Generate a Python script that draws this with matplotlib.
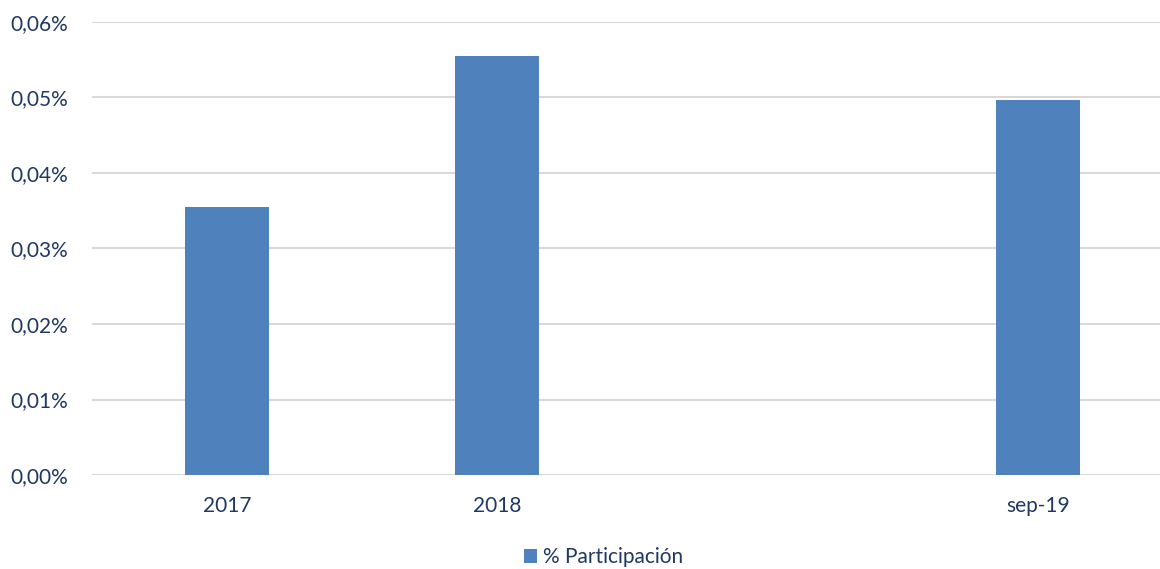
import numpy as np
from matplotlib import pyplot as plt
from matplotlib.ticker import FuncFormatter

categories = ["2017", "2018", "", "sep-19"]
participacion = [0.0355, 0.0555, np.nan, 0.0497]  # percent values
y_ticks = [0.00, 0.01, 0.02, 0.03, 0.04, 0.05, 0.06]

text_color = "#1F3864"
bar_color = "#4F81BD"

plt.rcParams["font.family"] = ["Lato", "DejaVu Sans"]

fig = plt.figure(figsize=(11.6, 5.69), dpi=100)
ax = fig.add_axes([92 / 1160, 94 / 569, 1 - 92 / 1160, (475 - 22) / 569])

x = np.arange(len(categories))
ax.bar(x, participacion, width=84 / 270, color=bar_color, label="% Participación", zorder=3)

ax.set_xlim(-0.5, 3.5 - 13 / 270)
ax.set_ylim(0, 0.06)
ax.set_yticks(y_ticks)
ax.yaxis.set_major_formatter(FuncFormatter(lambda v, p: f"{v:.2f}%".replace(".", ",")))
ax.set_xticks(x)
ax.set_xticklabels(categories)

ax.grid(axis="y", color="#D9D9D9", linewidth=1.5, zorder=0)
for s in ax.spines.values():
    s.set_visible(False)
ax.tick_params(axis="both", length=0, labelsize=15, colors=text_color)
ax.tick_params(axis="y", pad=17)
ax.tick_params(axis="x", pad=15)

leg = fig.legend(loc="center", bbox_to_anchor=(0.52, 12 / 569), ncol=1,
                 frameon=False, fontsize=15, handlelength=0.65, handleheight=0.65,
                 handletextpad=0.25)
for t in leg.get_texts():
    t.set_color(text_color)

fig.savefig("out.png", dpi=100)
